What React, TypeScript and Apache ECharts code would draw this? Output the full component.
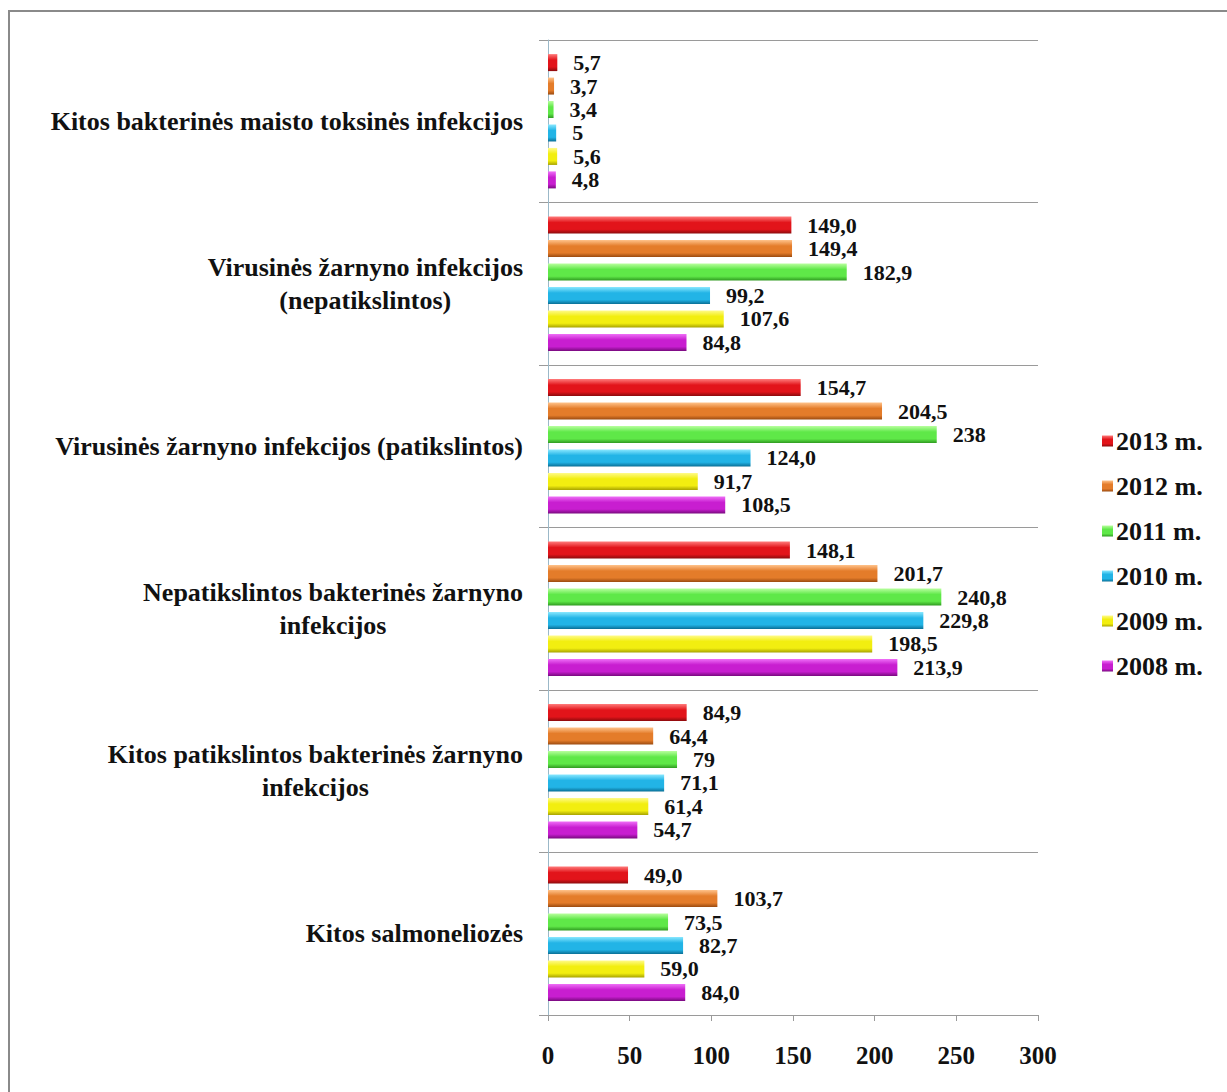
import React, { useEffect, useRef } from "react";
import * as echarts from "echarts";

const categories = [
  "Kitos salmoneliozės",
  "Kitos patikslintos bakterinės žarnyno\ninfekcijos",
  "Nepatikslintos bakterinės žarnyno\ninfekcijos",
  "Virusinės žarnyno infekcijos (patikslintos)",
  "Virusinės žarnyno infekcijos\n(nepatikslintos)",
  "Kitos bakterinės maisto toksinės infekcijos",
];

const seriesNames = ["2013 m.", "2012 m.", "2011 m.", "2010 m.", "2009 m.", "2008 m."];

const values2013 = [49.0, 84.9, 148.1, 154.7, 149.0, 5.7];
const values2012 = [103.7, 64.4, 201.7, 204.5, 149.4, 3.7];
const values2011 = [73.5, 79, 240.8, 238, 182.9, 3.4];
const values2010 = [82.7, 71.1, 229.8, 124.0, 99.2, 5];
const values2009 = [59.0, 61.4, 198.5, 91.7, 107.6, 5.6];
const values2008 = [84.0, 54.7, 213.9, 108.5, 84.8, 4.8];

const labels2013 = ["49,0", "84,9", "148,1", "154,7", "149,0", "5,7"];
const labels2012 = ["103,7", "64,4", "201,7", "204,5", "149,4", "3,7"];
const labels2011 = ["73,5", "79", "240,8", "238", "182,9", "3,4"];
const labels2010 = ["82,7", "71,1", "229,8", "124,0", "99,2", "5"];
const labels2009 = ["59,0", "61,4", "198,5", "91,7", "107,6", "5,6"];
const labels2008 = ["84,0", "54,7", "213,9", "108,5", "84,8", "4,8"];

const xTicks = [0, 50, 100, 150, 200, 250, 300];

const allValues = [values2013, values2012, values2011, values2010, values2009, values2008];
const allLabels = [labels2013, labels2012, labels2011, labels2010, labels2009, labels2008];

// [light, base, dark]
const palettes = [
  ["#ff7a7a", "#e2141a", "#8a0a0c"],
  ["#ffc28a", "#e47c2a", "#9a4a10"],
  ["#b8ff9e", "#5fe848", "#2f9a20"],
  ["#8ae8ff", "#22b4e6", "#0a6f96"],
  ["#fffb8a", "#f2ee10", "#a8a400"],
  ["#f070f8", "#c81ed0", "#7a0a80"],
];

const FONT = '"Liberation Serif", "Times New Roman", serif';

export default function App() {
  const ref = useRef<HTMLDivElement>(null);
  useEffect(() => {
    if (!ref.current) return;
    const chart = echarts.init(ref.current, null, { renderer: "svg" });
    const series = seriesNames.map((name, i) => {
      const p = palettes[i];
      return {
        name,
        type: "bar",
        data: allValues[i],
        barWidth: 17,
        barGap: "38%",
        itemStyle: {
          color: new echarts.graphic.LinearGradient(0, 0, 0, 1, [
            { offset: 0, color: p[0] },
            { offset: 0.35, color: p[1] },
            { offset: 0.75, color: p[1] },
            { offset: 1, color: p[2] },
          ]),
        },
        label: {
          show: true,
          position: "right",
          distance: 16,
          fontFamily: FONT,
          fontWeight: "bold",
          fontSize: 22,
          lineHeight: 22,
          color: "#111",
          formatter: (pr: any) => allLabels[i][pr.dataIndex],
        },
      };
    });
    chart.setOption({
      animation: false,
      backgroundColor: "#ffffff",
      graphic: [
        {
          type: "rect",
          shape: { x: 9, y: 11, width: 1300, height: 1200 },
          style: { fill: "none", stroke: "#8a8a8a", lineWidth: 2 },
          silent: true,
        },
      ],
      legend: {
        orient: "vertical",
        left: 1097,
        top: 423,
        itemWidth: 11,
        itemHeight: 11,
        itemGap: 19,
        icon: "rect",
        data: seriesNames,
        textStyle: {
          fontFamily: FONT,
          fontWeight: "bold",
          fontSize: 26,
          color: "#111",
          padding: [0, 0, 0, -2],
        },
      },
      grid: { left: 548, right: 189, top: 40, bottom: 77, containLabel: false },
      xAxis: {
        type: "value",
        min: 0,
        max: 300,
        interval: 50,
        axisLine: { show: true, lineStyle: { color: "#9a9a9a", width: 1 } },
        axisTick: { show: true, length: 6, lineStyle: { color: "#9a9a9a" } },
        splitLine: { show: false },
        axisLabel: {
          margin: 28,
          fontFamily: FONT,
          fontWeight: "bold",
          fontSize: 25,
          color: "#111",
          formatter: (v: number) => (xTicks.includes(v) ? String(v) : ""),
        },
      },
      yAxis: {
        type: "category",
        data: categories,
        axisLine: { show: true, lineStyle: { color: "#9bb8c8", width: 1 } },
        axisTick: { show: true, length: 9, lineStyle: { color: "#9a9a9a" } },
        splitLine: { show: true, lineStyle: { color: "#9a9a9a", width: 1 } },
        axisLabel: {
          margin: 25,
          align: "right",
          formatter: (v: string) =>
            v
              .split("\n")
              .map((s) => `{c|${s}}`)
              .join("\n"),
          rich: {
            c: {
              align: "center",
              fontFamily: FONT,
              fontWeight: "bold",
              fontSize: 26,
              lineHeight: 33,
              color: "#111",
            },
          },
        },
      },
      series,
    });
    return () => chart.dispose();
  }, []);
  return (
    <div
      ref={ref}
      style={{ position: "absolute", left: 0, top: 0, width: 1227, height: 1092 }}
    />
  );
}
